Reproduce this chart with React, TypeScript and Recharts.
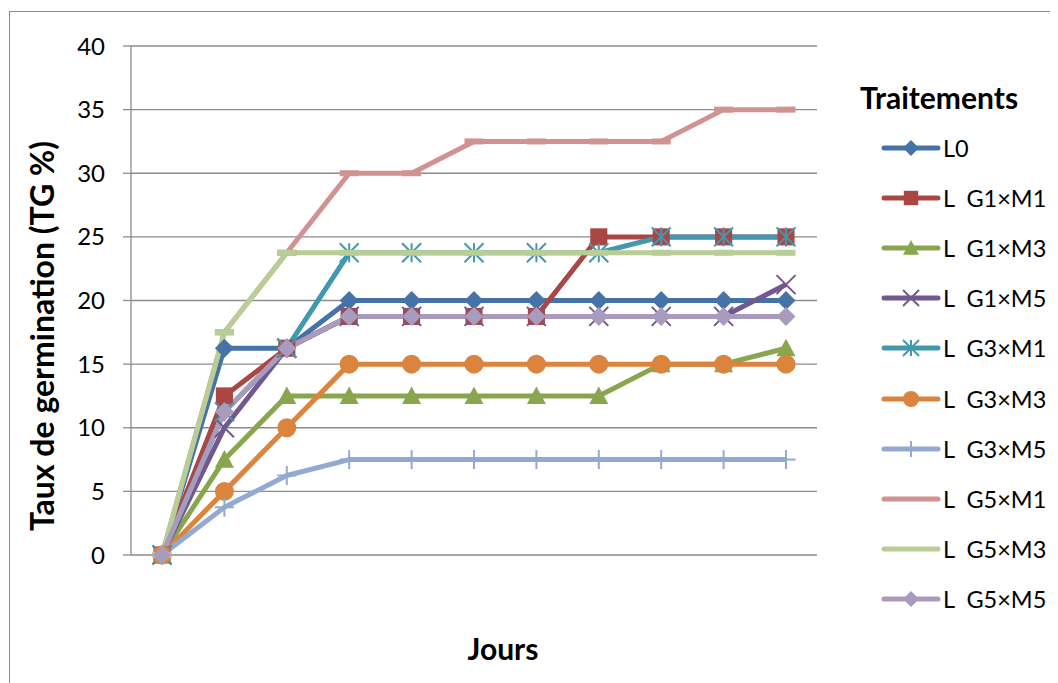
import React from 'react';
import { LineChart, Line, XAxis, YAxis, CartesianGrid } from 'recharts';

const days = ['0', '1', '2', '3', '4', '5', '6', '7', '8', '9', '10'];
const yTicks = [0, 5, 10, 15, 20, 25, 30, 35, 40];

const L0 = [0, 16.25, 16.25, 20, 20, 20, 20, 20, 20, 20, 20];
const G1M1 = [0, 12.5, 16.25, 18.75, 18.75, 18.75, 18.75, 25, 25, 25, 25];
const G1M3 = [0, 7.5, 12.5, 12.5, 12.5, 12.5, 12.5, 12.5, 15, 15, 16.25];
const G1M5 = [0, 10, 16.25, 18.75, 18.75, 18.75, 18.75, 18.75, 18.75, 18.75, 21.25];
const G3M1 = [0, 11.25, 16.25, 23.75, 23.75, 23.75, 23.75, 23.75, 25, 25, 25];
const G3M3 = [0, 5, 10, 15, 15, 15, 15, 15, 15, 15, 15];
const G3M5 = [0, 3.75, 6.25, 7.5, 7.5, 7.5, 7.5, 7.5, 7.5, 7.5, 7.5];
const G5M1 = [0, 17.5, 23.75, 30, 30, 32.5, 32.5, 32.5, 32.5, 35, 35];
const G5M3 = [0, 17.5, 23.75, 23.75, 23.75, 23.75, 23.75, 23.75, 23.75, 23.75, 23.75];
const G5M5 = [0, 11.25, 16.25, 18.75, 18.75, 18.75, 18.75, 18.75, 18.75, 18.75, 18.75];

type Shape = 'diamond' | 'square' | 'triangle' | 'x' | 'star' | 'circle' | 'plus' | 'dash';

const seriesDefs: { key: string; name: string; color: string; shape: Shape; values: number[] }[] = [
  { key: 'L0', name: 'L0', color: '#4572A7', shape: 'diamond', values: L0 },
  { key: 'G1M1', name: 'L  G1×M1', color: '#AA4643', shape: 'square', values: G1M1 },
  { key: 'G1M3', name: 'L  G1×M3', color: '#89A54E', shape: 'triangle', values: G1M3 },
  { key: 'G1M5', name: 'L  G1×M5', color: '#71588F', shape: 'x', values: G1M5 },
  { key: 'G3M1', name: 'L  G3×M1', color: '#4198AF', shape: 'star', values: G3M1 },
  { key: 'G3M3', name: 'L  G3×M3', color: '#DB843D', shape: 'circle', values: G3M3 },
  { key: 'G3M5', name: 'L  G3×M5', color: '#93A9CF', shape: 'plus', values: G3M5 },
  { key: 'G5M1', name: 'L  G5×M1', color: '#D19392', shape: 'dash', values: G5M1 },
  { key: 'G5M3', name: 'L  G5×M3', color: '#B9CD96', shape: 'dash', values: G5M3 },
  { key: 'G5M5', name: 'L  G5×M5', color: '#A99BBD', shape: 'diamond', values: G5M5 },
];

const data = days.map((d, i) => {
  const row: Record<string, number | string> = { day: d };
  seriesDefs.forEach((s) => {
    row[s.key] = s.values[i];
  });
  return row;
});

function Marker({ shape, cx, cy, color, s }: { shape: Shape; cx: number; cy: number; color: string; s: number }) {
  const h = s / 2;
  switch (shape) {
    case 'diamond':
      return <polygon points={`${cx},${cy - h} ${cx + h},${cy} ${cx},${cy + h} ${cx - h},${cy}`} fill={color} />;
    case 'square':
      return <rect x={cx - h * 0.9} y={cy - h * 0.9} width={h * 1.8} height={h * 1.8} fill={color} />;
    case 'triangle':
      return <polygon points={`${cx},${cy - h} ${cx + h},${cy + h * 0.85} ${cx - h},${cy + h * 0.85}`} fill={color} />;
    case 'circle':
      return <circle cx={cx} cy={cy} r={h} fill={color} />;
    case 'x':
      return (
        <g stroke={color} strokeWidth={2}>
          <line x1={cx - h} y1={cy - h} x2={cx + h} y2={cy + h} />
          <line x1={cx - h} y1={cy + h} x2={cx + h} y2={cy - h} />
        </g>
      );
    case 'star':
      return (
        <g stroke={color} strokeWidth={2}>
          <line x1={cx - h} y1={cy - h} x2={cx + h} y2={cy + h} />
          <line x1={cx - h} y1={cy + h} x2={cx + h} y2={cy - h} />
          <line x1={cx} y1={cy - h} x2={cx} y2={cy + h} />
        </g>
      );
    case 'plus':
      return (
        <g stroke={color} strokeWidth={2}>
          <line x1={cx} y1={cy - h} x2={cx} y2={cy + h} />
          <line x1={cx - h} y1={cy} x2={cx + h} y2={cy} />
        </g>
      );
    case 'dash':
      return <rect x={cx - h} y={cy - 3} width={s} height={6} fill={color} />;
  }
  return null;
}

const makeDot = (shape: Shape, color: string) => (p: any) => {
  if (p.cx == null || p.cy == null) return <g key={`n-${p.index}`} />;
  return (
    <g key={`d-${p.index}`}>
      <Marker shape={shape} cx={p.cx} cy={p.cy} color={color} s={19} />
    </g>
  );
};

const FONT = 'Lato, "Open Sans", sans-serif';

export default function App() {
  return (
    <div style={{ position: 'relative', width: 1050, height: 675, overflow: 'hidden', fontFamily: FONT }}>
      <div
        style={{
          position: 'absolute',
          left: 1,
          top: 3,
          width: 1200,
          height: 800,
          border: '1px solid #8a8a8a',
          boxSizing: 'border-box',
        }}
      />
      <div style={{ position: 'absolute', left: 0, top: 0 }}>
        <LineChart width={1050} height={675} data={data} margin={{ top: 38, right: 241, bottom: 128, left: 0 }}>
          <CartesianGrid vertical={false} stroke="#8c8c8c" strokeWidth={1.3} />
          <XAxis dataKey="day" hide padding={{ left: 31, right: 31 }} />
          <YAxis
            width={123}
            domain={[0, 40]}
            ticks={yTicks}
            interval={0}
            axisLine={{ stroke: '#8c8c8c', strokeWidth: 1.3 }}
            tickLine={{ stroke: '#8c8c8c', strokeWidth: 1.3 }}
            tickSize={8}
            tickMargin={18}
            tick={{ fill: '#000', fontSize: 24, fontFamily: FONT }}
          />
          {seriesDefs.map((s) => (
            <Line
              key={s.key}
              dataKey={s.key}
              name={s.name}
              type="linear"
              stroke={s.color}
              strokeWidth={5}
              strokeLinejoin="round"
              dot={makeDot(s.shape, s.color)}
              activeDot={false}
              isAnimationActive={false}
            />
          ))}
        </LineChart>
      </div>
      <div
        style={{
          position: 'absolute',
          left: 41 - 8,
          top: 336 - 8,
          transform: 'translate(-50%, -50%) rotate(-90deg)',
          whiteSpace: 'nowrap',
          fontWeight: 700,
          fontSize: 32,
          color: '#000',
        }}
      >
        Taux de germination (TG %)
      </div>
      <div
        style={{
          position: 'absolute',
          left: 503 - 8,
          top: 648 - 8,
          transform: 'translate(-50%, -50%)',
          whiteSpace: 'nowrap',
          fontWeight: 700,
          fontSize: 30,
          color: '#000',
        }}
      >
        Jours
      </div>
      <div
        style={{
          position: 'absolute',
          left: 860 - 8,
          top: 97 - 8,
          transform: 'translateY(-50%)',
          whiteSpace: 'nowrap',
          fontWeight: 700,
          fontSize: 30,
          color: '#000',
        }}
      >
        Traitements
      </div>
      {seriesDefs.map((s, i) => (
        <div
          key={s.key}
          style={{
            position: 'absolute',
            left: 880 - 8,
            top: 148 + i * 50.1 - 8,
            transform: 'translateY(-50%)',
            display: 'flex',
            alignItems: 'center',
            whiteSpace: 'pre',
            fontSize: 23.5,
            color: '#000',
          }}
        >
          <svg width={62} height={24} style={{ display: 'block' }}>
            <line x1={4} y1={12} x2={58} y2={12} stroke={s.color} strokeWidth={5} strokeLinecap="round" />
            {s.shape !== 'dash' && <Marker shape={s.shape} cx={31} cy={12} color={s.color} s={16} />}
          </svg>
          <span style={{ marginLeft: 1 }}>{s.name}</span>
        </div>
      ))}
    </div>
  );
}
